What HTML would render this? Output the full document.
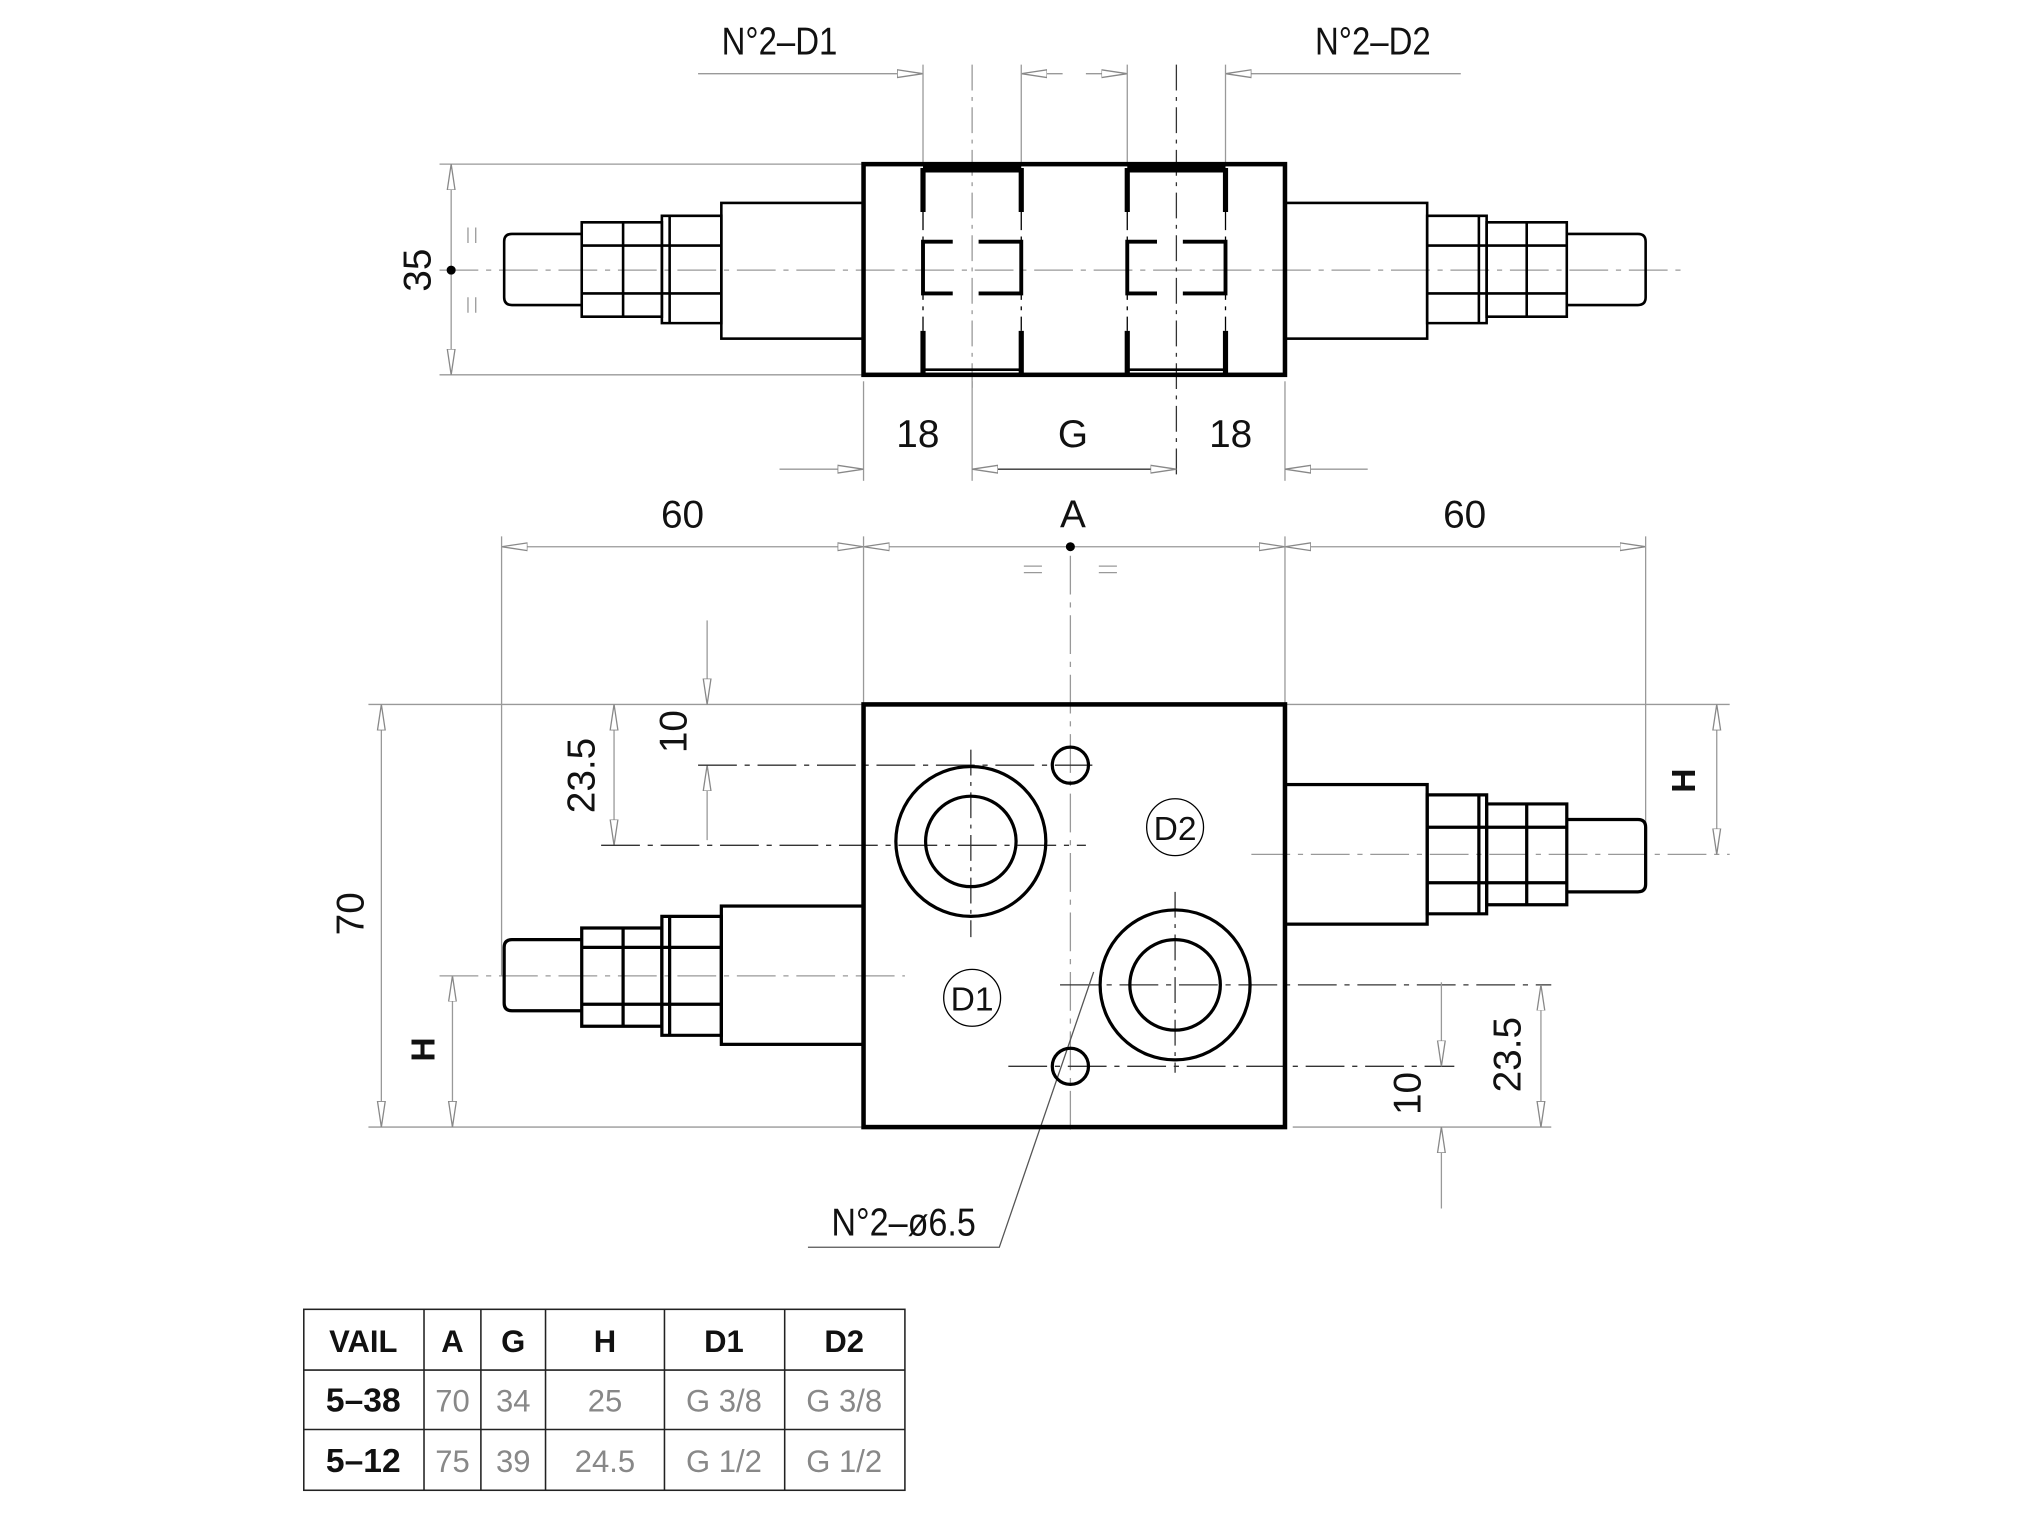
<!DOCTYPE html>
<html><head><meta charset="utf-8"><style>
html,body{margin:0;padding:0;background:#fff;}
svg{display:block;}
text{font-family:"Liberation Sans",sans-serif;fill:#111;}
</style></head><body>
<svg width="2027" height="1520" viewBox="0 0 1568 1176" preserveAspectRatio="none" xmlns="http://www.w3.org/2000/svg">
<defs>
<marker id="a" viewBox="0 0 20 8" refX="20" refY="4" markerWidth="20" markerHeight="8" markerUnits="userSpaceOnUse" orient="auto-start-reverse">
<path d="M0,1 L20,4 L0,7 Z" fill="#fff" stroke="#888" stroke-width="1"/>
</marker>
</defs>
<g fill="none" stroke="#999" stroke-width="1">
<path d="M340 209H1305" stroke-dasharray="30 6 4 6"/>
<line x1="540" y1="57" x2="714" y2="57" marker-end="url(#a)"/>
<line x1="790" y1="57" x2="822" y2="57" marker-start="url(#a)"/>
<line x1="840" y1="57" x2="872" y2="57" marker-end="url(#a)"/>
<line x1="948" y1="57" x2="1130" y2="57" marker-start="url(#a)"/>
<line x1="714" y1="50" x2="714" y2="127"/><line x1="790" y1="50" x2="790" y2="127"/>
<line x1="872" y1="50" x2="872" y2="127"/><line x1="948" y1="50" x2="948" y2="127"/>
<line x1="752" y1="50" x2="752" y2="300" stroke-dasharray="20 5 3 5"/>
<line x1="910" y1="50" x2="910" y2="370" stroke="#333" stroke-dasharray="20 5 3 5"/>
<line x1="340" y1="127" x2="668" y2="127"/><line x1="340" y1="290" x2="668" y2="290"/>
<line x1="349" y1="127" x2="349" y2="290" marker-start="url(#a)" marker-end="url(#a)"/>
<path d="M362 176v12M368 176v12M362 230v12M368 230v12"/>
<line x1="668" y1="295" x2="668" y2="372"/><line x1="752" y1="295" x2="752" y2="372"/><line x1="994" y1="295" x2="994" y2="372"/>
<line x1="603" y1="363" x2="668" y2="363" marker-end="url(#a)"/>
<line x1="752" y1="363" x2="910" y2="363" stroke="#333" marker-start="url(#a)" marker-end="url(#a)"/>
<line x1="994" y1="363" x2="1058" y2="363" marker-start="url(#a)"/>
<line x1="388" y1="423" x2="668" y2="423" marker-start="url(#a)" marker-end="url(#a)"/>
<line x1="668" y1="423" x2="994" y2="423" marker-start="url(#a)" marker-end="url(#a)"/>
<line x1="994" y1="423" x2="1273" y2="423" marker-start="url(#a)" marker-end="url(#a)"/>
<line x1="388" y1="415" x2="388" y2="755"/><line x1="668" y1="415" x2="668" y2="545"/>
<line x1="994" y1="415" x2="994" y2="545"/><line x1="1273" y1="415" x2="1273" y2="660"/>
<path d="M792 438h14M792 443h14M850 438h14M850 443h14"/>
<line x1="828" y1="430" x2="828" y2="880" stroke-dasharray="30 6 4 6"/>
<line x1="285" y1="545" x2="668" y2="545"/><line x1="285" y1="872" x2="668" y2="872"/>
<line x1="295" y1="545" x2="295" y2="872" marker-start="url(#a)" marker-end="url(#a)"/>
<line x1="350" y1="755" x2="350" y2="872" marker-start="url(#a)" marker-end="url(#a)"/>
<line x1="340" y1="755" x2="700" y2="755" stroke-dasharray="30 6 4 6"/>
<line x1="475" y1="545" x2="475" y2="654" marker-start="url(#a)" marker-end="url(#a)"/>
<line x1="547" y1="480" x2="547" y2="545" marker-end="url(#a)"/>
<line x1="547" y1="592" x2="547" y2="650" marker-start="url(#a)"/>
<line x1="540" y1="592" x2="845" y2="592" stroke="#333" stroke-dasharray="30 6 4 6"/>
<line x1="465" y1="654" x2="840" y2="654" stroke="#333" stroke-dasharray="30 6 4 6"/>
<line x1="994" y1="545" x2="1338" y2="545"/>
<line x1="968" y1="661" x2="1338" y2="661" stroke-dasharray="30 6 4 6"/>
<line x1="1328" y1="545" x2="1328" y2="661" marker-start="url(#a)" marker-end="url(#a)"/>
<line x1="820" y1="762" x2="1200" y2="762" stroke="#333" stroke-dasharray="30 6 4 6"/>
<line x1="780" y1="825" x2="1125" y2="825" stroke="#333" stroke-dasharray="30 6 4 6"/>
<line x1="1000" y1="872" x2="1200" y2="872"/>
<line x1="1192" y1="762" x2="1192" y2="872" marker-start="url(#a)" marker-end="url(#a)"/>
<line x1="1115" y1="760" x2="1115" y2="825" marker-end="url(#a)"/>
<line x1="1115" y1="872" x2="1115" y2="935" marker-start="url(#a)"/>
<line x1="909" y1="690" x2="909" y2="830" stroke="#333" stroke-dasharray="20 5 3 5"/>
<line x1="751" y1="580" x2="751" y2="725" stroke="#333" stroke-dasharray="20 5 3 5"/>
<path d="M846 752L773 965H625" stroke="#555"/>
</g>
<g fill="none" stroke="#000">
<rect x="668" y="127" width="326" height="163" stroke-width="3.5"/>
<path d="M714 130h76M872 130h76" stroke-width="7"/>
<path d="M714 130v34M790 130v34M714 256v34M790 256v34M872 130v34M948 130v34M872 256v34M948 256v34" stroke-width="4"/>
<path d="M737 187h-23v40h23M757 187h33v40h-33M895 187h-23v40h23M915 187h33v40h-33" stroke-width="3"/>
<path d="M714 286h76M872 286h76" stroke-width="2"/>
<path d="M714 164v92M790 164v92M872 164v92M948 164v92" stroke-width="1" stroke-dasharray="14 5 3 5"/>
<g stroke-width="2">
<rect x="558" y="157" width="110" height="105"/>
<path d="M512 167h46v83h-46zM518 167v83M512 190h46M512 227h46"/>
<path d="M450 172h62v73h-62zM482 172v73M450 190h62M450 227h62"/>
<path d="M450 181h-54q-6 0 -6 6v43q0 6 6 6h54"/>
<rect x="994" y="157" width="110" height="105"/>
<path d="M1104 167h46v83h-46zM1144 167v83M1104 190h46M1104 227h46"/>
<path d="M1150 172h62v73h-62zM1181 172v73M1150 190h62M1150 227h62"/>
<path d="M1212 181h55q6 0 6 6v43q0 6 -6 6h-55"/>
</g>
<rect x="668" y="545" width="326" height="327" stroke-width="3.5"/>
<g stroke-width="2.5">
<circle cx="751" cy="651" r="58"/><circle cx="751" cy="651" r="35"/>
<circle cx="909" cy="762" r="58"/><circle cx="909" cy="762" r="35"/>
<circle cx="828" cy="592" r="14"/><circle cx="828" cy="825" r="14"/>
<rect x="994" y="607" width="110" height="108"/>
<path d="M1104 615h46v92h-46zM1144 615v92M1104 640h46M1104 683h46"/>
<path d="M1150 622h62v78h-62zM1181 622v78M1150 640h62M1150 683h62"/>
<path d="M1212 634h55q6 0 6 6v44q0 6 -6 6h-55"/>
<rect x="558" y="701" width="110" height="107"/>
<path d="M512 709h46v92h-46zM518 709v92M512 733h46M512 777h46"/>
<path d="M450 718h62v76h-62zM482 718v76M450 733h62M450 777h62"/>
<path d="M450 727h-54q-6 0 -6 6v43q0 6 6 6h54"/>
</g>
<g stroke-width="1"><circle cx="752" cy="772" r="22"/><circle cx="909" cy="640" r="22"/></g>
<circle cx="349" cy="209" r="3" fill="#000"/><circle cx="828" cy="423" r="3" fill="#000"/>
</g>
<g font-size="30" text-anchor="middle">
<text x="603" y="42" transform="translate(603 0) scale(0.85 1) translate(-603 0)">N°2–D1</text>
<text x="1062" y="42" transform="translate(1062 0) scale(0.85 1) translate(-1062 0)">N°2–D2</text>
<text x="710" y="346">18</text><text x="830" y="346">G</text><text x="952" y="346">18</text>
<text x="528" y="408">60</text><text x="830" y="408">A</text><text x="1133" y="408">60</text>
<text transform="translate(333 209) rotate(-90)">35</text>
<text transform="translate(281 707) rotate(-90)">70</text>
<text transform="translate(460 600) rotate(-90)">23.5</text>
<text transform="translate(531 566) rotate(-90)">10</text>
<text transform="translate(1176 816) rotate(-90)">23.5</text>
<text transform="translate(1099 846) rotate(-90)">10</text>
<text transform="translate(336 812) rotate(-90)" font-weight="bold" font-size="26">H</text>
<text transform="translate(1311 604) rotate(-90)" font-weight="bold" font-size="26">H</text>
<text x="699" y="956" transform="translate(699 0) scale(0.88 1) translate(-699 0)">N°2–ø6.5</text>
<text x="752" y="782" font-size="26">D1</text><text x="909" y="650" font-size="26">D2</text>
</g>
<g fill="none" stroke="#222" stroke-width="1.2">
<rect x="235" y="1013" width="465" height="140"/>
<path d="M235 1060H700M235 1106H700M328 1013V1153M372 1013V1153M422 1013V1153M514 1013V1153M607 1013V1153"/>
</g>
<g font-size="24" text-anchor="middle" font-weight="bold">
<text x="281" y="1046">VAIL</text><text x="350" y="1046">A</text><text x="397" y="1046">G</text><text x="468" y="1046">H</text><text x="560" y="1046">D1</text><text x="653" y="1046">D2</text>
<text x="281" y="1092" font-size="26">5–38</text><text x="281" y="1139" font-size="26">5–12</text>
</g>
<g font-size="24" text-anchor="middle">
<text x="350" y="1092" style="fill:#888">70</text><text x="397" y="1092" style="fill:#888">34</text><text x="468" y="1092" style="fill:#888">25</text><text x="560" y="1092" style="fill:#888">G 3/8</text><text x="653" y="1092" style="fill:#888">G 3/8</text>
<text x="350" y="1139" style="fill:#888">75</text><text x="397" y="1139" style="fill:#888">39</text><text x="468" y="1139" style="fill:#888">24.5</text><text x="560" y="1139" style="fill:#888">G 1/2</text><text x="653" y="1139" style="fill:#888">G 1/2</text>
</g>
</svg>
</body></html>
